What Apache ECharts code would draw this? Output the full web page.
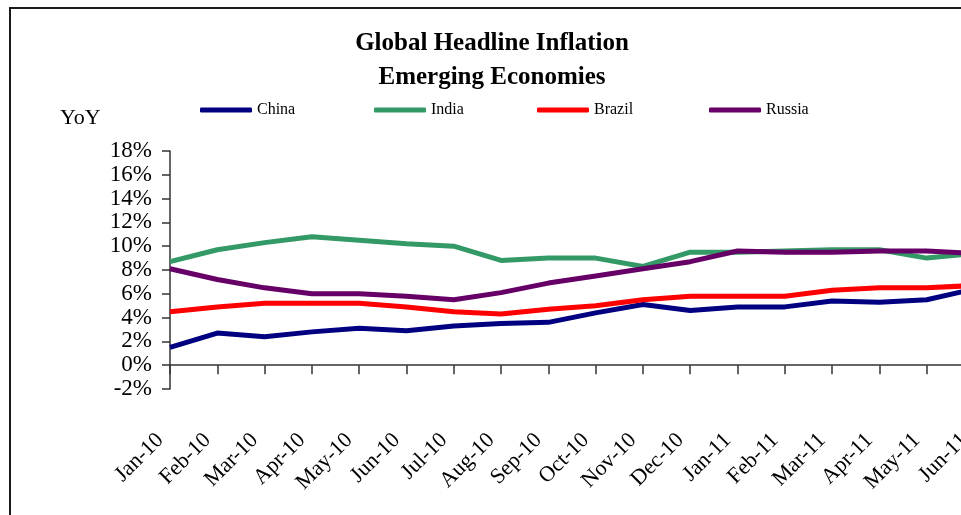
<!DOCTYPE html>
<html>
<head>
<meta charset="utf-8">
<script src="https://cdn.jsdelivr.net/npm/echarts@6/dist/echarts.min.js"></script>
<style>
  html, body { margin: 0; padding: 0; background: #fff; }
  #chart { width: 961px; height: 515px; }
</style>
</head>
<body>
<div id="chart"></div>
<script>
// Monthly year-on-year headline inflation, %
const months = ['Jan-10','Feb-10','Mar-10','Apr-10','May-10','Jun-10','Jul-10','Aug-10','Sep-10',
                'Oct-10','Nov-10','Dec-10','Jan-11','Feb-11','Mar-11','Apr-11','May-11','Jun-11'];
const china  = [1.5, 2.7, 2.4, 2.8, 3.1, 2.9, 3.3, 3.5, 3.6, 4.4, 5.1, 4.6, 4.9, 4.9, 5.4, 5.3, 5.5, 6.4];
const india  = [8.7, 9.7, 10.3, 10.8, 10.5, 10.2, 10.0, 8.8, 9.0, 9.0, 8.3, 9.5, 9.5, 9.6, 9.7, 9.7, 9.0, 9.4];
const brazil = [4.5, 4.9, 5.2, 5.2, 5.2, 4.9, 4.5, 4.3, 4.7, 5.0, 5.5, 5.8, 5.8, 5.8, 6.3, 6.5, 6.5, 6.7];
const russia = [8.1, 7.2, 6.5, 6.0, 6.0, 5.8, 5.5, 6.1, 6.9, 7.5, 8.1, 8.7, 9.6, 9.5, 9.5, 9.6, 9.6, 9.4];

const seriesNames  = ['China', 'India', 'Brazil', 'Russia'];
const seriesValues = [china, india, brazil, russia];
const seriesColors = ['#000080', '#339966', '#ff0000', '#660066'];
const legendLeft   = [200, 374, 537, 709];

const serif = '"Liberation Serif", "DejaVu Serif", serif';

const chart = echarts.init(document.getElementById('chart'), null, { renderer: 'canvas' });

chart.setOption({
  backgroundColor: '#ffffff',
  animation: false,
  title: {
    text: 'Global Headline Inflation\nEmerging Economies',
    left: 492,
    textAlign: 'center',
    top: 27,
    padding: 0,
    textStyle: {
      fontFamily: serif,
      fontWeight: 'bold',
      fontSize: 25,
      lineHeight: 34,
      color: '#000'
    }
  },
  legend: seriesNames.map((name, i) => ({
    data: [name],
    left: legendLeft[i],
    top: 102,
    padding: 0,
    icon: 'roundRect',
    itemWidth: 52,
    itemHeight: 5,
    selectedMode: false,
    textStyle: { fontFamily: serif, fontSize: 16, color: '#000', padding: [5, 0, 0, 0] }
  })),
  graphic: [
    {
      type: 'rect',
      shape: { x: 10, y: 8, width: 1000, height: 600 },
      style: { fill: 'none', stroke: '#1a1a1a', lineWidth: 2 },
      silent: true
    },
    {
      type: 'text',
      left: 60,
      top: 107,
      style: { text: 'YoY', font: '22px ' + serif, fill: '#000' }
    }
  ],
  grid: { left: 170, top: 151, right: -13, height: 238, outerBoundsMode: 'none', containLabel: false },
  xAxis: {
    type: 'category',
    data: months,
    boundaryGap: false,
    axisLine: { onZero: true, lineStyle: { color: '#333', width: 1.5 } },
    axisTick: { show: true, length: 9, lineStyle: { color: '#333', width: 1.5 } },
    axisLabel: {
      rotate: 45,
      margin: 38,
      interval: 0,
      padding: [0, 14, 0, 0],
      fontFamily: serif,
      fontSize: 22,
      color: '#000'
    },
    splitLine: { show: false }
  },
  yAxis: {
    type: 'value',
    min: -2,
    max: 18,
    interval: 2,
    axisLine: { show: true, lineStyle: { color: '#333', width: 1.5 } },
    axisTick: { show: true, length: 8, lineStyle: { color: '#333', width: 1.5 } },
    axisLabel: {
      formatter: '{value}%',
      margin: 18,
      fontFamily: serif,
      fontSize: 23,
      color: '#000'
    },
    splitLine: { show: false }
  },
  series: seriesNames.map((name, i) => ({
    name: name,
    type: 'line',
    data: seriesValues[i],
    symbol: 'none',
    color: seriesColors[i],
    lineStyle: { width: 5, color: seriesColors[i] },
    z: 2 + i
  }))
});
</script>
</body>
</html>
